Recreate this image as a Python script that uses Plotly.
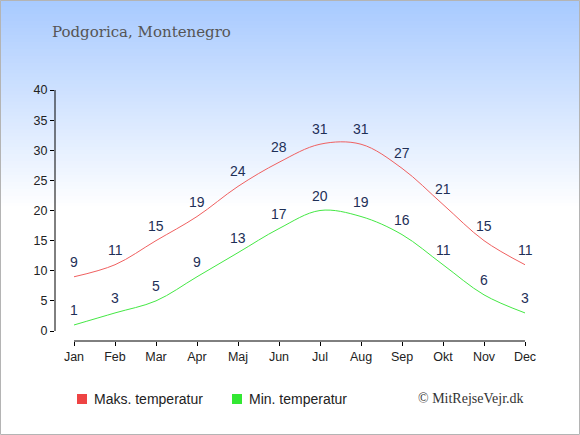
import plotly.graph_objects as go

months = ["Jan", "Feb", "Mar", "Apr", "Maj", "Jun", "Jul", "Aug", "Sep", "Okt", "Nov", "Dec"]
max_temp = [9, 11, 15, 19, 24, 28, 31, 31, 27, 21, 15, 11]
min_temp = [1, 3, 5, 9, 13, 17, 20, 19, 16, 11, 6, 3]

W, H = 580, 435
L, R, T, B = 55, 55, 90, 94
pw, ph = W - L - R, H - T - B

def px_x(p):
    return (p - L) / pw

def px_y(p):
    return (H - B - p) / ph

label_font = dict(family="Liberation Sans, Arial", size=14, color="#1e2f57")

fig = go.Figure()

fig.add_trace(go.Scatter(x=months, y=max_temp, mode="lines", name="Maks. temperatur",
                         line=dict(color="#f06060", width=1, shape="spline", smoothing=1),
                         showlegend=False, hoverinfo="skip"))
fig.add_trace(go.Scatter(x=months, y=min_temp, mode="lines", name="Min. temperatur",
                         line=dict(color="#44e844", width=1, shape="spline", smoothing=1),
                         showlegend=False, hoverinfo="skip"))

annotations = []
# value labels above each point
for series in (max_temp, min_temp):
    for m, v in zip(months, series):
        annotations.append(dict(x=m, y=v, text=str(v), showarrow=False,
                                yshift=15, font=label_font))

# background gradient, light blue at top fading to white
shapes = []
n = 60
top_c = (168, 202, 255)
grad_end = 210
for i in range(n):
    y0 = grad_end * i / n
    y1 = grad_end * (i + 1) / n + 0.5
    f = i / (n - 1)
    c = tuple(int(round(tc + (255 - tc) * f)) for tc in top_c)
    shapes.append(dict(type="rect", xref="paper", yref="paper", layer="below",
                       x0=px_x(0), x1=px_x(W), y0=px_y(y1), y1=px_y(y0),
                       fillcolor="rgb(%d,%d,%d)" % c, line=dict(width=0)))
# axis lines
shapes.append(dict(type="line", xref="paper", yref="y", x0=0, x1=0, y0=0, y1=40,
                   line=dict(color="black", width=1)))
shapes.append(dict(type="line", xref="x", yref="paper", x0=0, x1=11, y0=0, y1=0,
                   line=dict(color="black", width=1)))
# outer border
shapes.append(dict(type="rect", xref="paper", yref="paper",
                   x0=px_x(0.5), x1=px_x(W - 0.5), y0=px_y(H - 0.5), y1=px_y(0.5),
                   line=dict(color="#b4b4b4", width=1)))

# legend drawn by hand: square + label
legend_items = [("Maks. temperatur", "#ee4444", 77), ("Min. temperatur", "#33e833", 232)]
for name, col, lx in legend_items:
    shapes.append(dict(type="rect", xref="paper", yref="paper",
                       x0=px_x(lx), x1=px_x(lx + 10), y0=px_y(404), y1=px_y(394),
                       fillcolor=col, line=dict(width=0)))
    annotations.append(dict(text=name, xref="paper", yref="paper",
                            x=px_x(lx + 15), y=px_y(398.5), xanchor="left", yanchor="middle",
                            showarrow=False,
                            font=dict(family="Liberation Sans, Arial", size=14, color="#222")))

annotations.append(dict(text="Podgorica, Montenegro", xref="paper", yref="paper",
                        x=px_x(50), y=px_y(32), xanchor="left", yanchor="middle", showarrow=False,
                        font=dict(family="DejaVu Serif, Georgia, serif", size=15, color="#555")))
annotations.append(dict(text="© MitRejseVejr.dk", xref="paper", yref="paper",
                        x=px_x(526), y=px_y(398), xanchor="right", yanchor="middle", showarrow=False,
                        font=dict(family="Liberation Serif, Georgia, serif", size=14, color="#333")))

fig.update_layout(
    width=W, height=H,
    margin=dict(l=L, r=R, t=T, b=B),
    paper_bgcolor="white",
    plot_bgcolor="rgba(0,0,0,0)",
    shapes=shapes,
    annotations=annotations,
    showlegend=False,
    xaxis=dict(range=[-19 / 41, 11], showgrid=False, zeroline=False, showline=False,
               ticks="outside", ticklen=4, tickcolor="black",
               tickfont=dict(family="Liberation Sans, Arial", size=12.5, color="#222")),
    yaxis=dict(range=[-10 / (241 / 40), 40], tickvals=list(range(0, 41, 5)),
               showgrid=False, zeroline=False, showline=False,
               ticks="outside", ticklen=4, tickcolor="black",
               tickfont=dict(family="Liberation Sans, Arial", size=12.5, color="#222")),
)

fig.write_html("out.html", config={"displayModeBar": False},
               post_script="document.body.style.margin='0';")
